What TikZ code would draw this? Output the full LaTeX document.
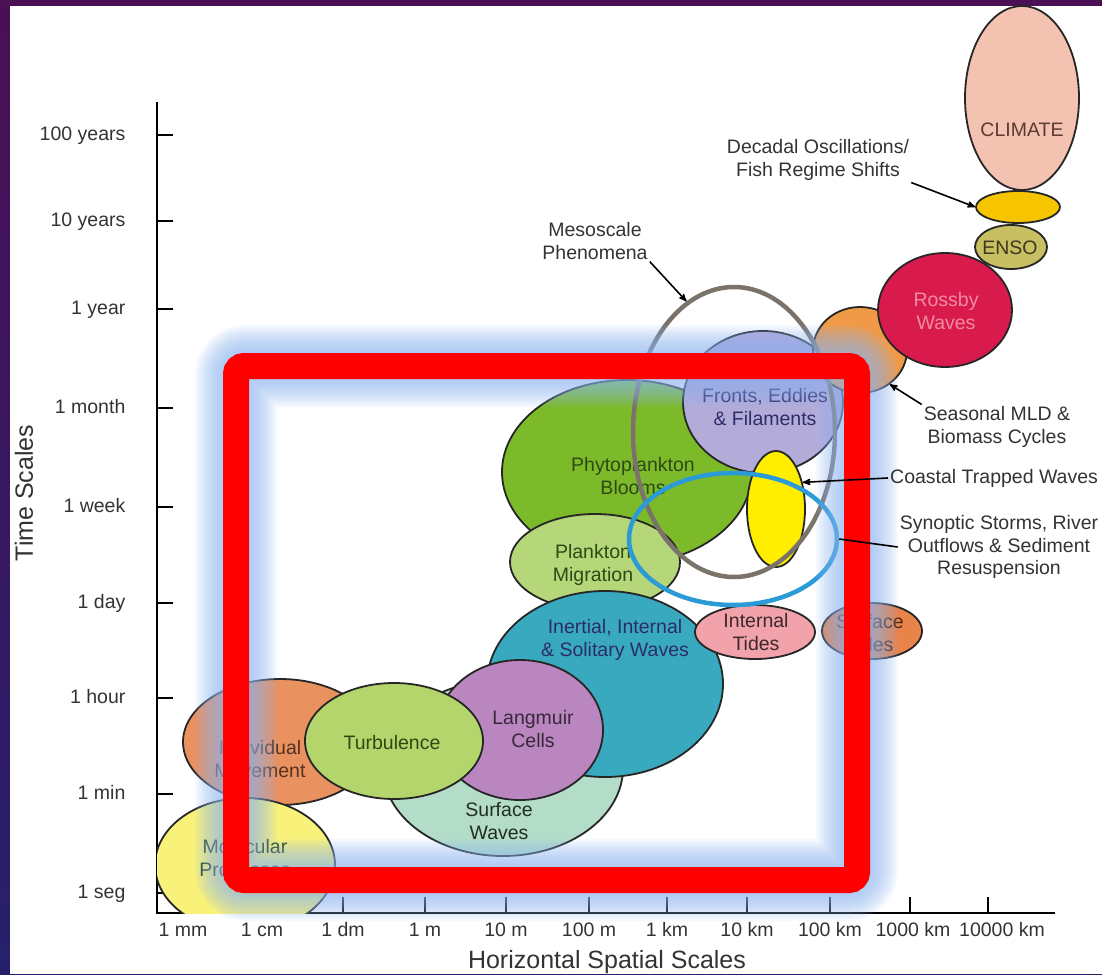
\documentclass[tikz,border=0pt]{standalone}
\usepackage{fontspec}
\setmainfont{Liberation Sans}
\usepackage{tikz}
\usetikzlibrary{arrows,positioning,shapes.geometric}

\definecolor{framepurple}{HTML}{4A0F55}
\definecolor{frameblue}{HTML}{26206C}
\definecolor{txtgrey}{HTML}{333333}
\definecolor{climatepink}{HTML}{F3C2B0}
\definecolor{decadalgold}{HTML}{F7C500}
\definecolor{ensoolive}{HTML}{C8BE62}
\definecolor{rossbyred}{HTML}{D81B4C}
\definecolor{rossbytxt}{HTML}{F28AA0}
\definecolor{seasonorange}{HTML}{F09A48}
\definecolor{frontslav}{HTML}{B4ACD8}
\definecolor{phytogreen}{HTML}{7DBA2A}
\definecolor{planktongreen}{HTML}{B6D67A}
\definecolor{coastyellow}{HTML}{FFEE00}
\definecolor{inertialteal}{HTML}{38A9BE}
\definecolor{itidespink}{HTML}{F2A2AA}
\definecolor{stidesorange}{HTML}{E8834A}
\definecolor{swavesmint}{HTML}{B3DDC9}
\definecolor{langmuirpurple}{HTML}{B986BF}
\definecolor{turbgreen}{HTML}{B3D56C}
\definecolor{indivorange}{HTML}{EA9160}
\definecolor{molecyellow}{HTML}{F9F27A}
\definecolor{ringgrey}{HTML}{7B726A}
\definecolor{ringblue}{HTML}{2A9BD6}
\definecolor{glowblue}{HTML}{8FB8F5}
\definecolor{darkgreen}{HTML}{2D4A14}
\definecolor{darknavy}{HTML}{2B2D6B}
\definecolor{darkbrown}{HTML}{5A3A32}

\begin{document}
\begin{tikzpicture}[x=1pt,y=-1pt,>=stealth',
    font=\fontsize{19.5}{22.5}\selectfont,
    blob/.style={draw=black!85,line width=1.8pt,ellipse,inner sep=0pt,fill=#1},
    ring/.style={draw=#1,line width=4.5pt,ellipse,inner sep=0pt},
    lbl/.style={align=center,inner sep=1pt},
    note/.style={align=center,text=txtgrey,inner sep=2pt},
    ticklbl/.style={text=txtgrey,text height=14pt,text depth=4pt},
    axtick/.style={line width=2.6pt}]
    \useasboundingbox (0,0) rectangle (1102,974);
    % frame and page
    \shade[top color=framepurple,bottom color=frameblue] (0,0) rectangle (1102,974);
    \fill[white] (10,6) rectangle (1102,974);

    % axes
    \draw[line width=2.8pt] (157,102) -- (157,913) -- (1055,913);
    \foreach \y/\t in {135/100 years,221/10 years,309/1 year,408/1 month,507/1 week,603/1 day,698/1 hour,794/1 min,893/1 seg}
      \draw[axtick] (157,\y) -- (173,\y) node[ticklbl,anchor=east] at (130,\y) {\t};
    \foreach \x/\t/\s in {183/1 mm/0,262/1 cm/0,343/1 dm/0,425/1 m/0,506/10 m/0,589/100 m/0,667/1 km/0,747/10 km/0,830/100 km/0,910/1000 km/3,988/10000 km/14}
      \draw[axtick] (\x,913) -- (\x,897) node[ticklbl] at (\x+\s,931) {\t};
    \node[text=txtgrey,font=\fontsize{25}{28}\selectfont] (xtitle) at (607,962) {Horizontal Spatial Scales};
    \node[text=txtgrey,font=\fontsize{25}{28}\selectfont,rotate=90] (ytitle) at (24,493) {Time Scales};

    % scales, back to front
    \node[blob=phytogreen,minimum width=250pt,minimum height=184pt] (phyto) at (627,472) {};
    \node[blob=planktongreen,minimum width=170pt,minimum height=96pt] (plankton) at (595,562) {};
    \node[blob=swavesmint,minimum width=240pt,minimum height=176pt] (swaves) at (503,768) {};
    \node[blob=inertialteal,minimum width=236pt,minimum height=186pt] (inertial) at (605,684) {};
    \node[blob=langmuirpurple,minimum width=166pt,minimum height=140pt] (langmuir) at (520,730) {};
    \node[blob=indivorange,minimum width=194pt,minimum height=126pt] (indiv) at (280,742) {};
    \node[blob=turbgreen,minimum width=178pt,minimum height=116pt] (turb) at (394,741) {};
    \begin{scope}
      \clip (157,0) rectangle (1102,913);
      \node[blob=molecyellow,minimum width=180pt,minimum height=134pt] (molec) at (245,865) {};
      \node[lbl,text=darkgreen!80!black] (molec-txt) at (245,858) {Molecular\\ Processes};
    \end{scope}
    \node[blob=frontslav,minimum width=160pt,minimum height=142pt] (fronts) at (763,402) {};
    \node[blob=coastyellow,minimum width=58pt,minimum height=116pt] (coastal) at (776,509) {};
    \node[blob=itidespink,minimum width=120pt,minimum height=54pt] (itides) at (755,632) {};
    \node[blob=stidesorange,minimum width=100pt,minimum height=56pt] (stides) at (872,631) {};
    \node[blob=seasonorange,minimum width=94pt,minimum height=86pt] (season) at (860,350) {};
    \node[blob=rossbyred,minimum width=134pt,minimum height=114pt] (rossby) at (945,310) {};
    \node[blob=ensoolive,minimum width=72pt,minimum height=44pt] (enso) at (1011,247) {};
    \node[blob=decadalgold,minimum width=84pt,minimum height=32pt] (decadal) at (1018,207) {};
    \node[blob=climatepink,minimum width=114pt,minimum height=184pt] (climate) at (1022,98) {};

    % labels inside the scales
    \node[lbl,text=darkgreen] (phyto-txt) at (633,476) {Phytoplankton\\ Blooms};
    \node[lbl,text=darkgreen] (plankton-txt) at (593,565) {Plankton\\ Migration};
    \node[lbl,text=darkgreen!70!swavesmint!40!black] (swaves-txt) at (499,821) {Surface\\ Waves};
    \node[lbl,text=darknavy] (inertial-txt) at (615,640) {Inertial, Internal\\ \& Solitary Waves};
    \node[lbl,text=langmuirpurple!30!black] (langmuir-txt) at (533,729) {Langmuir\\ Cells};
    \node[lbl,text=indivorange!35!black] (indiv-txt) at (260,759) {Individual\\ Movement};
    \node[lbl,text=darkgreen] (turb-txt) at (392,743) {Turbulence};
    \node[lbl,text=darknavy] (fronts-txt) at (765,407) {Fronts, Eddies\\ \& Filaments};
    \node[lbl,text=itidespink!25!black] (itides-txt) at (756,632) {Internal\\ Tides};
    \node[lbl,text=stidesorange!30!black] (stides-txt) at (870,633) {Surface\\ Tides};
    \node[lbl,text=rossbytxt] (rossby-txt) at (946,311) {Rossby\\ Waves};
    \node[lbl,text=ensoolive!30!black] (enso-txt) at (1010,248) {ENSO};
    \node[lbl,text=darkbrown] (climate-txt) at (1022,130) {CLIMATE};

    % open rings
    \node[ring=ringgrey,minimum width=202pt,minimum height=290pt] (meso) at (734,432) {};
    \node[ring=ringblue,minimum width=208pt,minimum height=132pt] (storm) at (733,539) {};

    % highlight frame
    \foreach \w in {30,34,...,82}
      \draw[glowblue,opacity=0.075,line width=\w pt,rounded corners=10pt] (236,366) rectangle (857,880);
    \draw[red,line width=26pt,rounded corners=8pt] (236,366) rectangle (857,880);

    % notes and pointers
    \node[note] (decadal-txt) at (818,160) {Decadal Oscillations/\\ Fish Regime Shifts};
    \node[note] (meso-txt) at (595,241) {Mesoscale\\ Phenomena};
    \node[note] (season-txt) at (997,427) {Seasonal MLD \&\\ Biomass Cycles};
    \node[note,anchor=west] (coastal-txt) at (888,478) {Coastal Trapped Waves};
    \node[note] (storm-txt) at (999,547) {Synoptic Storms, River\\ Outflows \& Sediment\\ Resuspension};
    \draw[->,line width=1.6pt] (decadal-txt.south east) -- (decadal.west);
    \draw[->,line width=1.6pt] (meso-txt.south east) -- (meso.110);
    \draw[->,line width=1.6pt] (season-txt.north west) -- (season.311);
    \draw[->,line width=1.6pt] (coastal-txt.west) -- (coastal.45);
    \draw[line width=1.6pt] (storm-txt.west) -- (storm.east);
\end{tikzpicture}
\end{document}
